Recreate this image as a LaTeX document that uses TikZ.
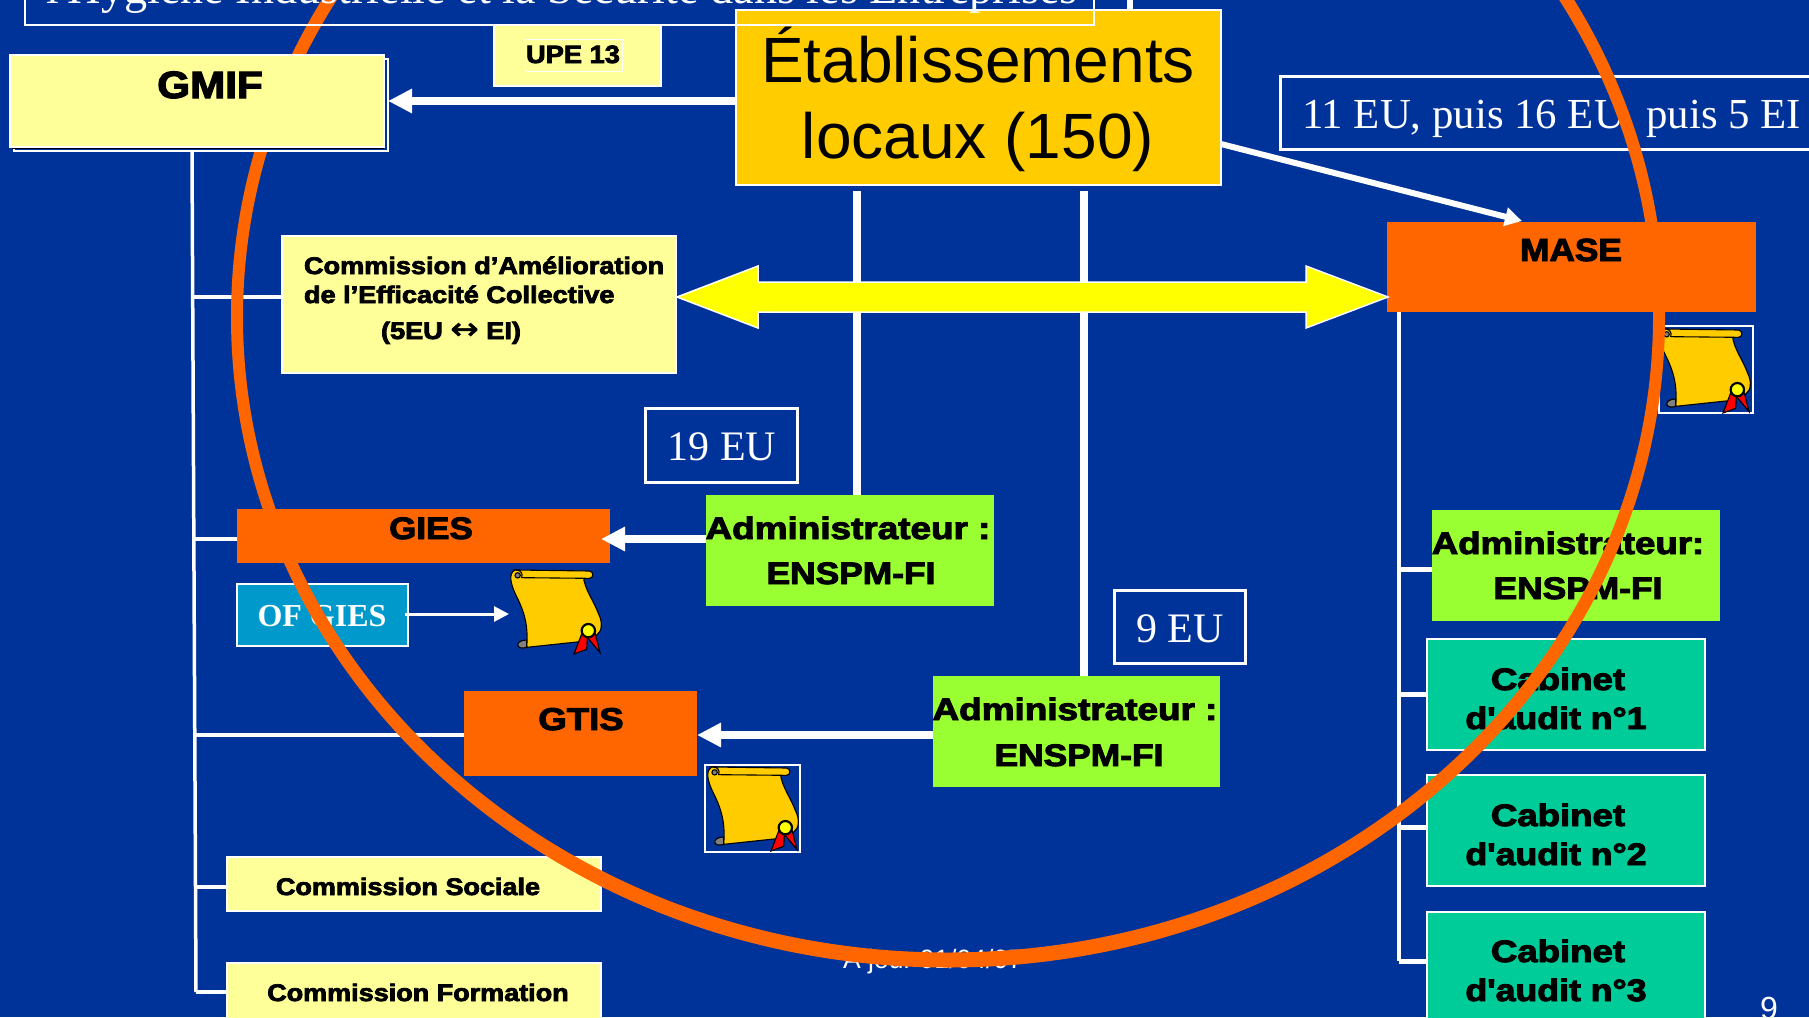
\documentclass[tikz,border=0pt]{standalone}
\usepackage{fontspec}
\usetikzlibrary{arrows.meta,calc}
\setmainfont{Liberation Sans}
\newfontfamily\hvy[FakeBold=3]{Liberation Sans Bold}
\newfontfamily\srf{Liberation Serif}
\newfontfamily\srfb{Liberation Serif Bold}
\newfontfamily\dvj[FakeBold=2]{DejaVu Sans}
\definecolor{bg}{HTML}{003399}
\definecolor{pale}{HTML}{FFFF99}
\definecolor{gold}{HTML}{FFCC00}
\definecolor{org}{HTML}{FF6600}
\definecolor{lime}{HTML}{99FF33}
\definecolor{teal2}{HTML}{00CC99}
\definecolor{sky}{HTML}{0099CC}
\definecolor{pureyellow}{HTML}{FFFF00}
\definecolor{purered}{HTML}{FF0000}
\tikzset{
  boxbase/.style={rectangle,inner sep=0pt,outer sep=0pt,anchor=north west},
  palebox/.style={boxbase,fill=pale,draw=white,line width=1.2pt},
  orgbox/.style={boxbase,fill=org},
  limebox/.style={boxbase,fill=lime},
  tealbox/.style={boxbase,fill=teal2,draw=white,line width=2.5pt},
  framebox/.style={boxbase,draw=white,line width=3pt},
  txt/.style={anchor=base,inner sep=0pt,outer sep=0pt},
  thick line/.style={draw=white,line width=7.5pt},
  branch/.style={draw=white,line width=3.5pt},
  bigarrow/.style={draw=white,line width=7.5pt,-{Triangle[length=24pt,width=23pt]}},
  smallarrow/.style={draw=white,line width=3pt,-{Triangle[length=15pt,width=15pt]}},
  certframe/.style={boxbase,draw=white,line width=1.8pt}
}
% box: style, name, x1,y1,x2,y2
\newcommand\bxx[6]{\node[#1,minimum width={#5-#3},minimum height={#6-#4}] (#2) at (#3,#4) {};}
% heavy label: name,x,baseline,size,xscale,text
\newcommand\hlab[6]{\node[txt] (#1) at (#2,#3+1) {\scalebox{#5}[1]{\fontsize{#4}{#4}\hvy #6}};}
% serif white label: name,x,baseline,size,text
\newcommand\slab[5]{\node[txt,text=white] (#1) at (#2,#3) {\fontsize{#4}{#4}\srf #5};}
% certificate drawn in zoom units, origin x,y
\newcommand\certif[2]{%
\begin{scope}[shift={(#1,#2)},scale=0.3333,line width=1.1pt,draw=black]
  \filldraw[fill=gold] (45,30) .. controls (25,40) and (30,70) .. (50,110) .. controls (75,160) and (85,200) .. (80,262) -- (240,245) -- (290,225) .. controls (305,215) and (310,190) .. (295,160) .. controls (280,120) and (255,90) .. (250,50) -- cycle;
  \filldraw[fill=gold] (50,30) -- (268,33) .. controls (282,34) and (282,55) .. (268,55) -- (65,53) .. controls (70,40) and (60,30) .. (50,30) -- cycle;
  \filldraw[fill=gray] (53,46) circle (8);
  \filldraw[fill=gray] (80,240) .. controls (60,240) and (50,250) .. (54,258) .. controls (58,266) and (70,265) .. (80,262) -- cycle;
  \filldraw[fill=purered] (245,222) -- (222,282) -- (260,268) -- (262,232) -- (300,278) -- (286,222) -- cycle;
  \filldraw[fill=pureyellow,line width=2.2pt] (265,212) circle (20);
\end{scope}}
\begin{document}
\begin{tikzpicture}[x=1pt,y=-1pt]
\useasboundingbox (0,0) rectangle (1809,1017);
\clip (0,0) rectangle (1809,1017);
\fill[bg] (0,0) rectangle (1809,1017);

% named free ends
\coordinate (spineTop) at (192,151);
\coordinate (spineBot) at (196,992);
\coordinate (jCom) at (193,297);
\coordinate (jGies) at (194,539);
\coordinate (jGtis) at (195,735);
\coordinate (jSoc) at (195,887);
\coordinate (jForm) at (196,992);
\coordinate (vOne) at (857,191);
\coordinate (vTwo) at (1084,191);
\coordinate (rTop) at (1399,312);
\coordinate (rBot) at (1399,961);
\coordinate (rA) at (1399,569);
\coordinate (rB) at (1399,694);
\coordinate (rC) at (1399,827);
\coordinate (rD) at (1399,961);
\coordinate (topStub) at (1130,0);
\coordinate (maseTip) at (1522,221);
\coordinate (etabOut) at (1221,144);
\coordinate (ofOut) at (405,614);
\coordinate (certTip) at (509,614);

% boxes
\bxx{palebox}{upe}{494}{25}{661}{86}
\bxx{boxbase,draw=white,line width=1pt}{upein}{525}{39}{622}{71}
\bxx{boxbase,fill=gold,draw=white,line width=2.5pt}{etab}{736}{10}{1221}{185}
\bxx{palebox}{commA}{282}{236}{676}{373}
\bxx{framebox}{nineteen}{645}{408}{797}{482}
\bxx{framebox}{nine}{1114}{590}{1245}{663}
\bxx{framebox}{eleven}{1280}{76}{1830}{149}
\bxx{orgbox}{mase}{1387}{222}{1756}{312}
\bxx{orgbox}{gies}{237}{509}{610}{563}
\bxx{orgbox}{gtis}{464}{691}{697}{776}
\bxx{limebox}{adminA}{706}{495}{994}{606}
\bxx{limebox}{adminB}{933}{676}{1220}{787}
\bxx{limebox}{adminC}{1432}{510}{1720}{621}
\bxx{tealbox}{cabA}{1427}{639}{1705}{750}
\bxx{tealbox}{cabB}{1427}{775}{1705}{886}
\bxx{tealbox}{cabC}{1427}{912}{1705}{1040}
\bxx{palebox}{commS}{227}{857}{601}{911}
\bxx{palebox}{commF}{227}{963}{601}{1040}
\bxx{boxbase,fill=sky,draw=white,line width=2.5pt}{ofg}{237}{584}{408}{646}
\bxx{certframe}{certB}{705}{765}{800}{852}
\bxx{certframe}{certC}{1659}{326}{1753}{413}

% connectors
\draw[white,line width=6pt] (topStub) -- (topStub |- etab.north);
\draw[white,line width=3.5pt] (spineTop) -- (spineBot);
\draw[branch] (jCom) -- (jCom -| commA.west);
\draw[branch] (jGies) -- (jGies -| gies.west);
\draw[branch] (jGtis) -- (jGtis -| gtis.west);
\draw[branch,line width=4.5pt] (jSoc) -- (jSoc -| commS.west);
\draw[branch,line width=4.5pt] (jForm) -- (jForm -| commF.west);
\draw[white,line width=4pt] (rTop) -- (rBot);
\draw[branch,line width=5pt] (rA) -- (rA -| adminC.west);
\draw[branch,line width=5pt] (rB) -- (rB -| cabA.west);
\draw[branch,line width=5pt] (rC) -- (rC -| cabB.west);
\draw[branch,line width=5pt] (rD) -- (rD -| cabC.west);
\draw[thick line] (vOne) -- (vOne |- adminA.north);
\draw[thick line] (vTwo) -- (vTwo |- adminB.north);

\draw[bigarrow] (adminA.west |- jGies) -- ($(jGies -| gies.east)+(-9,0)$);
\draw[bigarrow] (adminB.west |- jGtis) -- (jGtis -| gtis.east);
\draw[white,line width=6pt,-{Triangle[length=17pt,width=18pt]}] (etabOut) -- (maseTip);
\draw[smallarrow] (ofOut) -- (certTip);

% yellow double arrow between the commission and MASE
\filldraw[fill=pureyellow,draw=white,line width=1.5pt]
  (677,297) -- (758,266) -- (758,282) -- (1306,282) -- (1306,266) -- (1388,297)
  -- (1306,328) -- (1306,312) -- (758,312) -- (758,328) -- cycle;

% texts
\hlab{tUpe}{573}{62}{25}{1.09}{UPE 13}
\node[txt,text=black] (tEtabA) at (978,82) {\fontsize{64}{64}\selectfont Établissements};
\node[txt,text=black] (tEtabB) at (978,158) {\fontsize{64}{64}\selectfont locaux (150)};
\node[txt,anchor=base west] (tComA) at (304,274) {\scalebox{1.13}[1]{\fontsize{24}{24}\hvy Commission d’Amélioration}};
\node[txt,anchor=base west] (tComB) at (304,303) {\scalebox{1.13}[1]{\fontsize{24}{24}\hvy de l’Efficacité Collective}};
\hlab{tComC}{451}{338}{24}{1.13}{(5EU {\fontsize{30}{30}\dvj ↔} EI)}
\hlab{tMase}{1571}{260}{32}{1.1}{MASE}
\hlab{tGies}{431}{538}{31}{1.13}{GIES}
\hlab{tGtis}{581}{729}{31.5}{1.16}{GTIS}
\hlab{tAdmA}{848}{538}{31}{1.19}{Administrateur :}
\hlab{tEnsA}{851}{583}{31}{1.14}{ENSPM-FI}
\hlab{tAdmB}{1075}{719}{31}{1.19}{Administrateur :}
\hlab{tEnsB}{1079}{765}{31}{1.14}{ENSPM-FI}
\hlab{tAdmC}{1568}{553}{31}{1.18}{Administrateur:}
\hlab{tEnsC}{1578}{598}{31}{1.14}{ENSPM-FI}
\hlab{tCabA}{1558}{689}{31}{1.18}{Cabinet}
\hlab{tAudA}{1556}{728}{31}{1.15}{d\char39 audit n°1}
\hlab{tCabB}{1558}{825}{31}{1.18}{Cabinet}
\hlab{tAudB}{1556}{864}{31}{1.15}{d\char39 audit n°2}
\hlab{tCabC}{1558}{961}{31}{1.18}{Cabinet}
\hlab{tAudC}{1556}{1000}{31}{1.15}{d\char39 audit n°3}
\hlab{tSoc}{408}{894}{24}{1.125}{Commission Sociale}
\hlab{tForm}{418}{1000}{24}{1.125}{Commission Formation}
\slab{tNineteen}{722}{460}{42}{19 EU}
\slab{tNine}{1180}{642}{42}{9 EU}
\slab{tEleven}{1551.5}{128}{42.8}{11 EU, puis 16 EU, puis 5 EI}
\node[txt,text=white] (tOf) at (322,626) {\fontsize{32}{32}\srfb OF GIES};
\node[txt,text=white] (tDate) at (933,968) {\fontsize{26.5}{26.5}\selectfont A jour 01/04/07};
\node[txt,text=white] (tPage) at (1769,1019) {\fontsize{32}{32}\selectfont 9};

% certificates
\certif{500}{560}
\certif{697}{757}
\certif{1649}{319}

% ring: horizontal stroke 12, vertical stroke 15
\fill[org,even odd rule] (948,317) ellipse [x radius=717, y radius=650.5]
                         (948,317) ellipse [x radius=705, y radius=635.5];

% title box over the ring
\bxx{boxbase,draw=white,line width=2pt}{title}{25}{-30}{1094}{25}
\slab{tTitle}{562}{3}{46.2}{l'Hygiène Industrielle et la Sécurité dans les Entreprises}

% GMIF over the ring
\bxx{boxbase,fill=bg,draw=white,line width=1.5pt}{gmifsh}{14}{59}{388}{151}
\bxx{boxbase,fill=pale,draw=white,line width=1.5pt}{gmif}{10}{55}{384}{147}
\draw[black,line width=1.8pt] ($(gmif.south west)+(2,1.5)$) -- ($(gmif.south east)+(0,1.5)$);
\hlab{tGmif}{210}{97}{38}{1.11}{GMIF}
\draw[bigarrow] (etab.west |- gmif.east) -- (gmifsh.east |- gmif.east);
\end{tikzpicture}
\end{document}
